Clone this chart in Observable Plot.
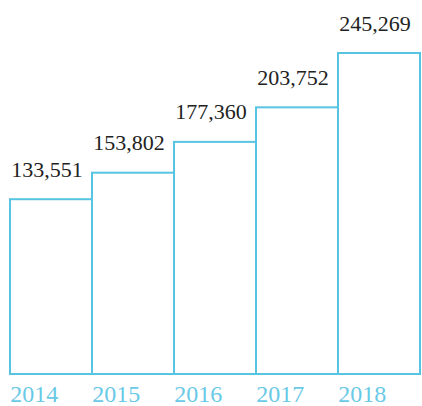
<!DOCTYPE html>
<html><head><meta charset="utf-8">
<script src="https://cdn.jsdelivr.net/npm/d3@7"></script>
<script src="https://cdn.jsdelivr.net/npm/@observablehq/plot@0.6"></script>
<style>body{margin:0;background:#fff}</style>
</head><body><div id="chart"></div>
<script>
const years = ["2014","2015","2016","2017","2018"];
const values = [133551,153802,177360,203752,245269];
const data = years.map((y,i)=>({year:y, value:values[i]}));
const W = 422, H = 406, mL = 8, mR = 1;
const bw = (W - mL - mR) / years.length;
const blue = "#57c5e1";
const chart = Plot.plot({
  width: W, height: H,
  marginLeft: mL, marginRight: mR, marginTop: 53, marginBottom: 32,
  style: {fontFamily: "'Liberation Serif', serif", background: "#fff"},
  x: {type: "band", domain: years, padding: 0},
  y: {domain: [0, 245269], axis: null},
  marks: [
    Plot.barY(data, {x: "year", y: "value", fill: "white", stroke: blue, strokeWidth: 2}),
    Plot.text(data, {x: "year", y: "value", text: d => d3.format(",")(d.value), textAnchor: "start", dx: -bw/2 + 1, dy: -30, fontSize: 22, fill: "#222"}),
    Plot.axisX({tickSize: 0, textAnchor: "start", dx: -bw/2, dy: 1, fontSize: 24, fill: "#6ac9e6", color: "#6ac9e6", label: null})
  ]
});
document.getElementById("chart").appendChild(chart);
</script></body></html>
